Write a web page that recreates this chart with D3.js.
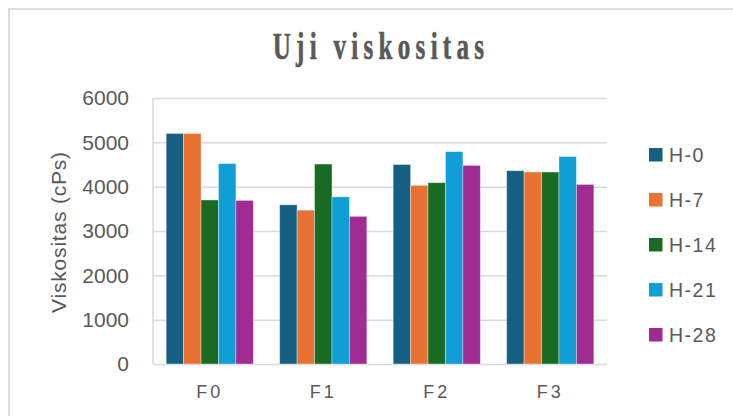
<!DOCTYPE html>
<html>
<head>
<meta charset="utf-8">
<script src="https://cdn.jsdelivr.net/npm/d3@7"></script>
<style>
  body { margin: 0; background: #fff; }
  svg { display: block; }
</style>
</head>
<body>
<div id="chart"></div>
<script>
// data
const categories = ['F0', 'F1', 'F2', 'F3'];
const seriesNames = ['H-0', 'H-7', 'H-14', 'H-21', 'H-28'];
const seriesColors = ['#156082', '#e97132', '#196b24', '#0f9ed5', '#a02b93'];
const valuesH0 = [5200, 3590, 4500, 4360];
const valuesH7 = [5200, 3470, 4030, 4330];
const valuesH14 = [3700, 4510, 4090, 4330];
const valuesH21 = [4520, 3770, 4790, 4680];
const valuesH28 = [3690, 3330, 4480, 4050];
const yTicks = [0, 1000, 2000, 3000, 4000, 5000, 6000];

const seriesValues = [valuesH0, valuesH7, valuesH14, valuesH21, valuesH28];

const width = 733;
const height = 416;
const margin = { top: 98, right: 126, bottom: 52, left: 153 };
const plotW = width - margin.left - margin.right;
const plotH = height - margin.top - margin.bottom;
const textColor = '#595959';
const gridColor = '#d9d9d9';

const svg = d3.select('#chart')
  .append('svg')
  .attr('width', width)
  .attr('height', height);

svg.append('rect')
  .attr('width', width).attr('height', height)
  .attr('fill', '#fff');

// outer chart frame (runs off right / bottom)
svg.append('rect')
  .attr('x', 9).attr('y', 9)
  .attr('width', width + 20).attr('height', height + 20)
  .attr('fill', 'none')
  .attr('stroke', gridColor)
  .attr('stroke-width', 1.8);

// title, tall narrow serif
svg.append('text')
  .attr('transform', 'translate(381, 59) scale(0.66, 1)')
  .attr('text-anchor', 'middle')
  .attr('font-family', '"Liberation Serif", "Times New Roman", serif')
  .attr('font-weight', 'bold')
  .attr('font-size', 38)
  .attr('letter-spacing', 8)
  .attr('fill', textColor)
  .attr('stroke', textColor)
  .attr('stroke-width', 0.6)
  .text('Uji viskositas');

const g = svg.append('g')
  .attr('transform', `translate(${margin.left}, ${margin.top})`);

const x0 = d3.scaleBand()
  .domain(categories)
  .range([0, plotW])
  .paddingInner(0.232)
  .paddingOuter(0.116);

const x1 = d3.scaleBand()
  .domain(seriesNames)
  .range([0, x0.bandwidth()]);

const y = d3.scaleLinear()
  .domain([0, 6000])
  .range([plotH, 0]);

// y axis with gridlines
const yAxis = d3.axisLeft(y)
  .tickValues(yTicks)
  .tickSize(-plotW)
  .tickPadding(24)
  .tickFormat(d3.format('d'));

const gY = g.append('g')
  .attr('class', 'axis y-axis')
  .call(yAxis);
gY.select('.domain').remove();
gY.selectAll('.tick line')
  .attr('stroke', gridColor)
  .attr('stroke-width', 1.5);
gY.selectAll('.tick text')
  .attr('fill', textColor)
  .attr('font-family', '"Liberation Sans", Arial, sans-serif')
  .attr('font-size', 21);

// left axis line
g.append('line')
  .attr('x1', 0).attr('x2', 0)
  .attr('y1', y(6000)).attr('y2', y(0))
  .attr('stroke', gridColor)
  .attr('stroke-width', 1.5);

// bars
const groups = g.selectAll('.group')
  .data(categories)
  .enter().append('g')
  .attr('class', 'group')
  .attr('transform', d => `translate(${x0(d)}, 0)`);

groups.selectAll('rect')
  .data((d, i) => seriesNames.map((s, j) => ({ name: s, value: seriesValues[j][i], color: seriesColors[j] })))
  .enter().append('rect')
  .attr('x', d => x1(d.name))
  .attr('y', d => y(d.value))
  .attr('width', x1.bandwidth())
  .attr('height', d => y(0) - y(d.value))
  .attr('fill', d => d.color)
  .attr('stroke', 'rgba(255,255,255,0.45)')
  .attr('stroke-width', 0.8);

// x axis labels
const xAxis = d3.axisBottom(x0)
  .tickSize(0)
  .tickPadding(21);

const gX = g.append('g')
  .attr('class', 'axis x-axis')
  .attr('transform', `translate(0, ${plotH})`)
  .call(xAxis);
gX.select('.domain').remove();
gX.selectAll('.tick text')
  .attr('fill', textColor)
  .attr('font-family', '"Liberation Sans", Arial, sans-serif')
  .attr('font-size', 18)
  .attr('letter-spacing', 3);

// y axis title
svg.append('text')
  .attr('transform', 'translate(66, 232) rotate(-90)')
  .attr('text-anchor', 'middle')
  .attr('font-family', '"Liberation Sans", Arial, sans-serif')
  .attr('font-size', 21)
  .attr('letter-spacing', 0.8)
  .attr('fill', textColor)
  .text('Viskositas (cPs)');

// legend
const legend = svg.append('g')
  .attr('transform', 'translate(649, 155)');

const items = legend.selectAll('.item')
  .data(seriesNames)
  .enter().append('g')
  .attr('class', 'item')
  .attr('transform', (d, i) => `translate(0, ${i * 45})`);

items.append('rect')
  .attr('x', 0).attr('y', -7)
  .attr('width', 13.5).attr('height', 13.5)
  .attr('fill', (d, i) => seriesColors[i]);

items.append('text')
  .attr('x', 20)
  .attr('y', 7)
  .attr('font-family', '"Liberation Sans", Arial, sans-serif')
  .attr('font-size', 19.5)
  .attr('letter-spacing', 1.5)
  .attr('fill', textColor)
  .text(d => d);
</script>
</body>
</html>
